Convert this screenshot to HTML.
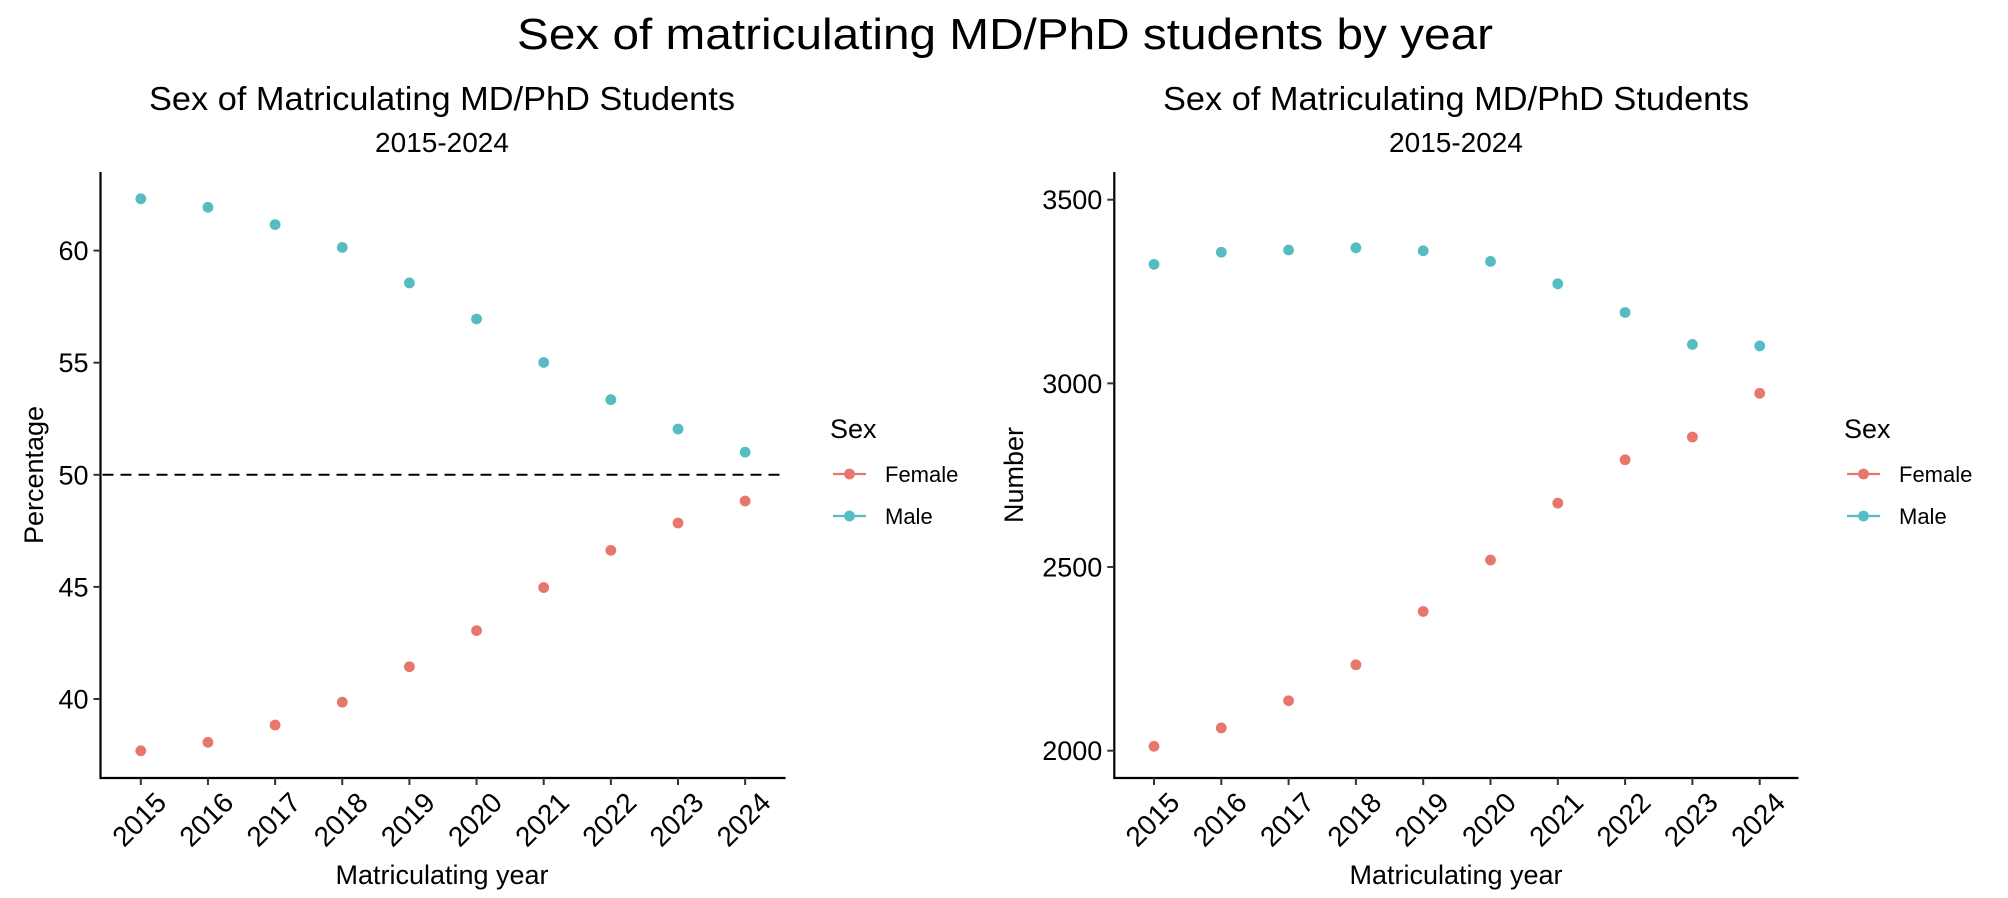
<!DOCTYPE html>
<html><head><meta charset="utf-8"><style>
html,body{margin:0;padding:0;background:#fff;}
svg{display:block;font-family:"Liberation Sans",Arial,sans-serif;}
</style></head><body>
<svg id="chart" width="2008" height="898" viewBox="0 0 2008 898" xmlns="http://www.w3.org/2000/svg">
<text x="1005" y="49" font-size="44" text-anchor="middle" textLength="976" lengthAdjust="spacingAndGlyphs">Sex of matriculating MD/PhD students by year</text>
<g id="left"></g>
<g id="right"></g>
</svg>
<script>
const years = [2015,2016,2017,2018,2019,2020,2021,2022,2023,2024];
const pctMale = [62.31,61.93,61.16,60.14,58.56,56.95,55.01,53.35,52.04,51.01];
const pctFemale = [37.69,38.07,38.84,39.86,41.44,43.05,44.97,46.63,47.85,48.83];
const pctTicks = [40,45,50,55,60];
const numMale = [3324,3357,3363,3369,3361,3332,3271,3193,3106,3102];
const numFemale = [2012,2062,2136,2234,2379,2519,2674,2792,2854,2973];
const numTicks = [2000,2500,3000,3500];
const refLine = [50];

const NS="http://www.w3.org/2000/svg";
const C_F="#E7776D", C_M="#55BCC3";
function mk(parent,tag,attrs,text){const e=document.createElementNS(NS,tag);for(const k in attrs)e.setAttribute(k,attrs[k]);if(text!==undefined)e.textContent=text;parent.appendChild(e);return e;}

function panel(g,cfg){
  const xs=i=>cfg.x0+i*cfg.step;
  const ys=v=>cfg.yRef+(v-cfg.vRef)*cfg.k;
  let t=mk(g,'text',{x:cfg.cx,y:110,'font-size':33,'text-anchor':'middle',textLength:586,lengthAdjust:'spacingAndGlyphs'},'Sex of Matriculating MD/PhD Students');
  
  
  t=mk(g,'text',{x:cfg.cx,y:152,'font-size':28,'text-anchor':'middle'},'2015-2024');
  
  
  let a=mk(g,'line',{x1:cfg.ax,y1:172,x2:cfg.ax,y2:778,stroke:'#000','stroke-width':2.2});
  
  
  a=mk(g,'line',{x1:cfg.ax-1,y1:778,x2:cfg.xEnd,y2:778,stroke:'#000','stroke-width':2.2});
  
  
  cfg.ticks.forEach(v=>{
    const y=ys(v);
    const l=mk(g,'line',{x1:cfg.ax-7,y1:y,x2:cfg.ax,y2:y,stroke:'#333','stroke-width':2});
    
    
    const tx=mk(g,'text',{x:cfg.ax-12,y:y+9.5,'font-size':27,'text-anchor':'end'},String(v));
    
    
  });
  years.forEach((yr,i)=>{
    const x=xs(i);
    const l=mk(g,'line',{x1:x,y1:778,x2:x,y2:785,stroke:'#333','stroke-width':2});
    
    
    const tx=mk(g,'text',{x:x+13,y:790,'font-size':28,'text-anchor':'end',dy:'0.72em',transform:`rotate(-45 ${x+13} 790)`},String(yr));
    
    
  });
  if(cfg.ref){cfg.ref.forEach(v=>{
    const d=mk(g,'line',{x1:cfg.ax+2,y1:ys(v),x2:cfg.xEnd,y2:ys(v),stroke:'#000','stroke-width':2,'stroke-dasharray':'11,7'});
    
    
  });}
  [[cfg.female,C_F,'female'],[cfg.male,C_M,'male']].forEach(([arr,col,nm])=>{
    arr.forEach((v,i)=>{
      const p=mk(g,'circle',{cx:xs(i),cy:ys(v),r:5.4,fill:col});
      
      
    });
  });
  t=mk(g,'text',{x:cfg.cx,y:884,'font-size':27,'text-anchor':'middle'},'Matriculating year');
  
  
  t=mk(g,'text',{x:cfg.ytx,y:475,'font-size':27,'text-anchor':'middle',transform:`rotate(-90 ${cfg.ytx} 475)`},cfg.ytitle);
  
  
  const L=mk(g,'g',{});
  
  
  t=mk(L,'text',{x:cfg.lx-3,y:438,'font-size':27},'Sex');
  
  
  [['Female',C_F,474],['Male',C_M,516]].forEach(([lab,col,y])=>{
    const e=mk(L,'g',{});
    
    
    mk(e,'line',{x1:cfg.lx,y1:y,x2:cfg.lx+33,y2:y,stroke:col,'stroke-width':2.2});
    mk(e,'circle',{cx:cfg.lx+16.5,cy:y,r:5.4,fill:col});
    mk(e,'text',{x:cfg.lx+52,y:y+8,'font-size':22},lab);
  });
}
panel(document.getElementById('left'),{x0:140.8,step:67.15,yRef:474.8,vRef:50,k:-22.42,ticks:pctTicks,ax:100.5,xEnd:785.5,cx:442,ytx:43,ytitle:'Percentage',female:pctFemale,male:pctMale,ref:refLine,lx:833});
panel(document.getElementById('right'),{x0:1154,step:67.3,yRef:750.7,vRef:2000,k:-0.36733,ticks:numTicks,ax:1114.3,xEnd:1798.5,cx:1456,ytx:1023,ytitle:'Number',female:numFemale,male:numMale,ref:null,lx:1847});
</script>
</body></html>
